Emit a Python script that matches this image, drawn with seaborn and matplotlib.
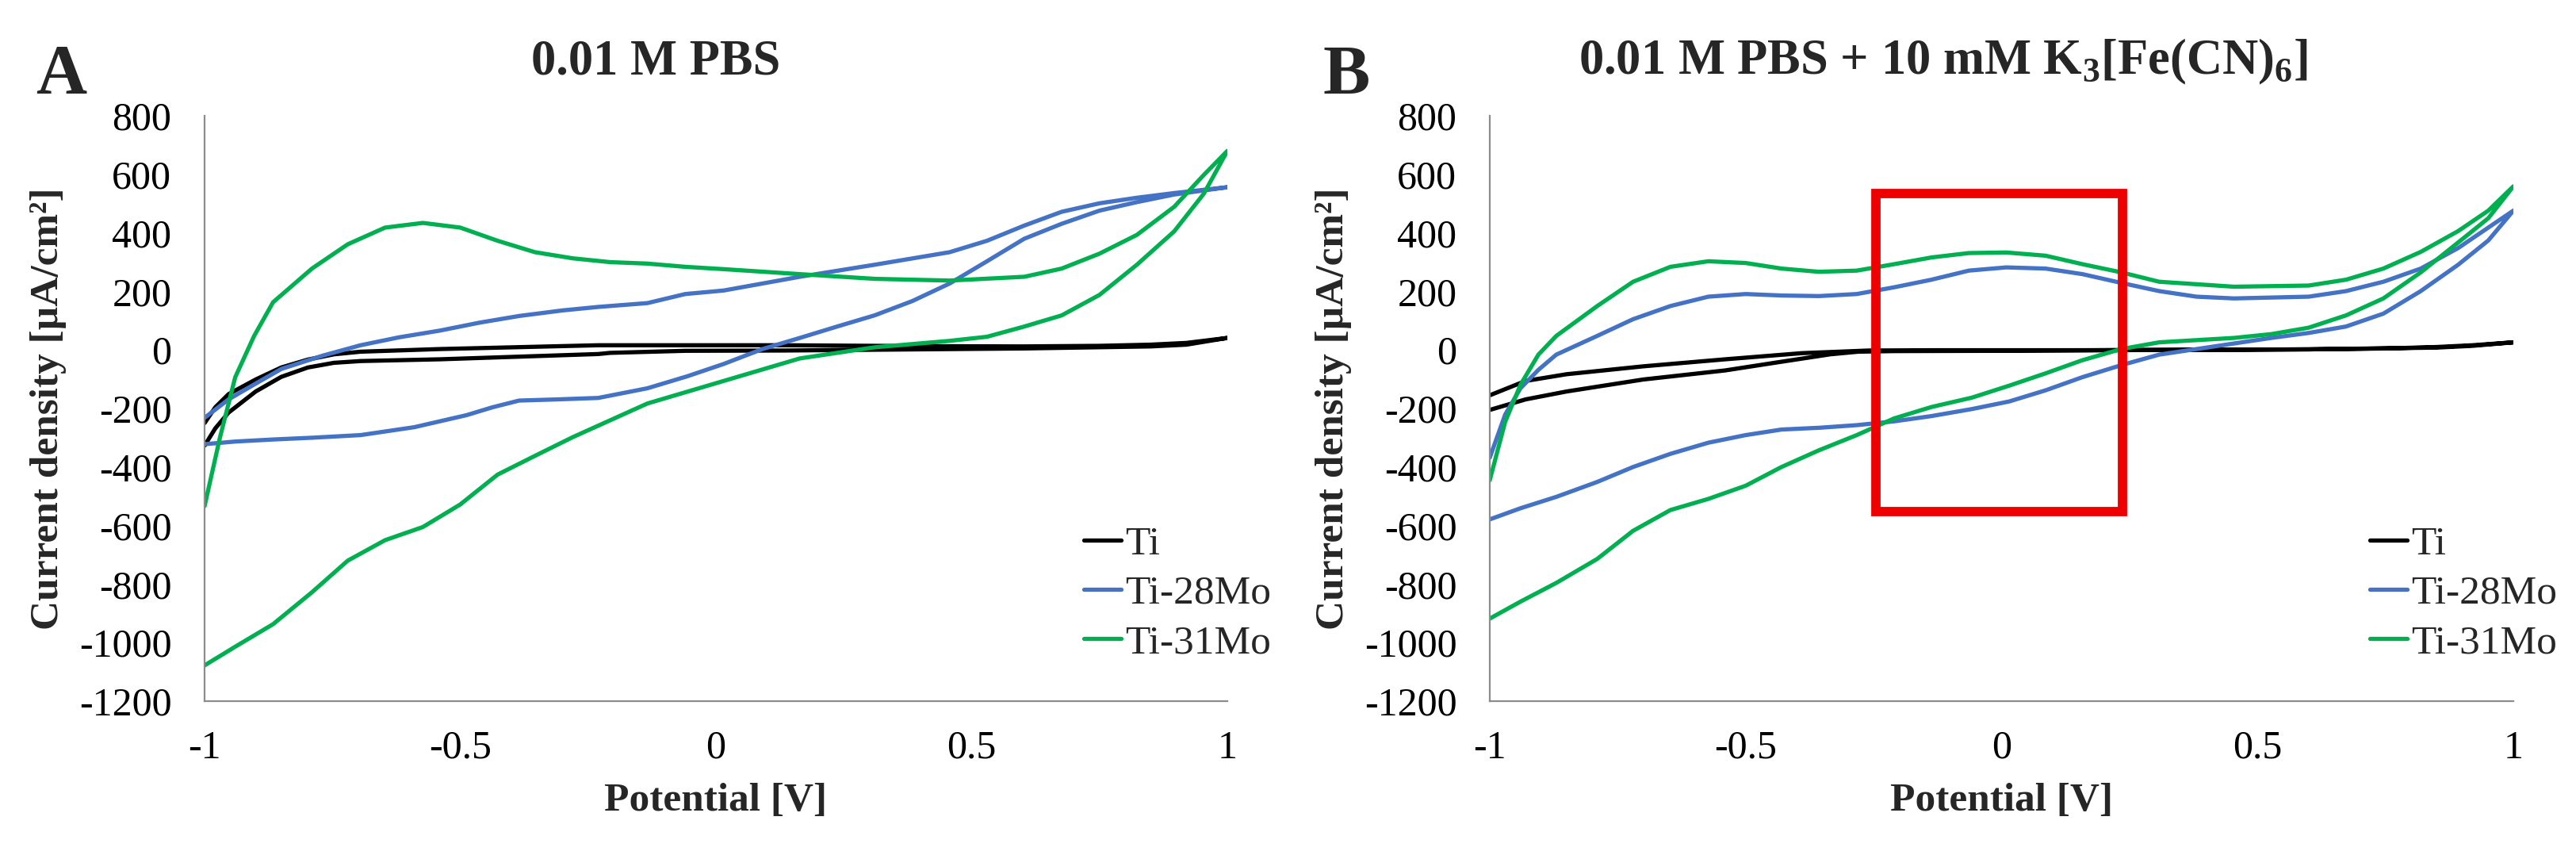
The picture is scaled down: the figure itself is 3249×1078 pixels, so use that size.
import pandas as pd
import matplotlib
matplotlib.use('Agg')
import matplotlib.pyplot as plt
from matplotlib.patches import Rectangle
import seaborn as sns

# ---- data (potential in V, current density in uA/cm2) ----
# Panel A: 0.01 M PBS
a_ti_fwd_v = [-1.0, -0.979, -0.953, -0.9, -0.85, -0.798, -0.747, -0.695, -0.54, -0.23, 0.135, 0.4, 0.6, 0.75, 0.85, 0.92, 1.0]
a_ti_fwd_i = [-250, -196, -151, -101, -60, -33, -15, -6, 3, 16, 16, 13, 12, 14, 18, 24, 41]
a_ti_rev_v = [1.0, 0.92, 0.85, 0.6, 0.4, 0.135, -0.06, -0.207, -0.23, -0.54, -0.695, -0.747, -0.798, -0.85, -0.9,
              -0.953, -0.979, -1.0]
a_ti_rev_i = [41, 18, 12, 5, 2, -2, -3, -10, -14, -32, -38, -44, -60, -92, -142, -214, -268, -327]

a_m28_fwd_v = [-1.0, -0.953, -0.9, -0.85, -0.77, -0.695, -0.62, -0.54, -0.463, -0.385, -0.3, -0.23,
               -0.134, -0.06, 0.015, 0.164, 0.31, 0.457, 0.53, 0.603, 0.676, 0.75, 0.823, 0.896, 1.0]
a_m28_fwd_i = [-232, -169, -115, -65, -20, 16, 43, 66, 93, 116, 135, 147,
               160, 191, 203, 250, 291, 334, 373, 425, 472, 501, 520, 536, 556]
a_m28_rev_v = [1.0, 0.896, 0.823, 0.75, 0.676, 0.603, 0.53, 0.457, 0.384, 0.31, 0.237, 0.164, 0.091, 0.015,
               -0.056, -0.134, -0.23, -0.31, -0.385, -0.437, -0.488, -0.59, -0.695, -0.79, -0.866, -0.94, -1.0]
a_m28_rev_i = [556, 531, 505, 476, 431, 380, 303, 227, 167, 118, 80, 41, 3, -48,
               -90, -131, -164, -169, -173, -196, -223, -264, -291, -300, -306, -313, -322]

a_m31_fwd_v = [-1.0, -0.97, -0.94, -0.903, -0.866, -0.79, -0.72, -0.647, -0.573, -0.5, -0.427, -0.354, -0.28,
               -0.207, -0.134, -0.06, 0.015, 0.164, 0.31, 0.457, 0.603, 0.676, 0.75, 0.823, 0.896, 0.954, 1.0]
a_m31_fwd_i = [-534, -300, -93, 48, 163, 278, 361, 418, 434, 418, 373, 334, 313,
               300, 295, 284, 276, 259, 243, 237, 250, 278, 329, 393, 489, 598, 680]
a_m31_rev_v = [1.0, 0.954, 0.896, 0.823, 0.75, 0.676, 0.603, 0.53, 0.457, 0.31, 0.164, 0.015, -0.134, -0.28,
               -0.354, -0.427, -0.5, -0.573, -0.647, -0.72, -0.79, -0.866, -0.94, -1.0]
a_m31_rev_i = [680, 534, 405, 291, 188, 118, 80, 45, 31, 9, -29, -106, -183, -298,
               -362, -426, -528, -605, -650, -720, -828, -937, -1014, -1078]

# Panel B: 0.01 M PBS + 10 mM K3[Fe(CN)6]
b_ti_fwd_v = [-1.0, -0.93, -0.85, -0.7, -0.54, -0.39, -0.26, -0.137, 0.13, 0.4, 0.6, 0.75, 0.85, 0.92, 1.0]
b_ti_fwd_i = [-155, -106, -83, -56, -32, -11, -2, -1, -1, 0, 2, 5, 10, 16, 26]
b_ti_rev_v = [1.0, 0.92, 0.85, 0.6, 0.3, 0.0, -0.21, -0.28, -0.335, -0.44, -0.54, -0.7, -0.85, -0.93, -1.0]
b_ti_rev_i = [26, 14, 8, 2, 0, -3, -4, -6, -15, -43, -70, -101, -142, -169, -205]

b_m28_fwd_v = [-1.0, -0.97, -0.94, -0.905, -0.87, -0.79, -0.72, -0.647, -0.573, -0.5, -0.43, -0.357, -0.283,
               -0.21, -0.137, -0.064, 0.009, 0.086, 0.158, 0.234, 0.308, 0.381, 0.454, 0.6, 0.673, 0.746,
               0.819, 0.892, 0.951, 1.0]
b_m28_fwd_i = [-368, -221, -131, -68, -16, 48, 105, 150, 182, 191, 186, 184, 191,
               214, 240, 271, 282, 278, 259, 229, 201, 182, 176, 182, 201, 233,
               278, 348, 418, 476]
b_m28_rev_v = [1.0, 0.951, 0.892, 0.819, 0.746, 0.673, 0.6, 0.527, 0.454, 0.381, 0.308, 0.234, 0.158, 0.086,
               0.015, -0.058, -0.137, -0.21, -0.283, -0.357, -0.43, -0.5, -0.573, -0.647, -0.72, -0.79, -0.87,
               -0.94, -1.0]
b_m28_rev_i = [476, 374, 291, 201, 124, 80, 58, 41, 22, 3, -16, -52, -93, -138,
               -176, -202, -226, -244, -257, -266, -272, -291, -317, -355, -400, -451, -502,
               -541, -579]

b_m31_fwd_v = [-1.0, -0.97, -0.94, -0.905, -0.87, -0.79, -0.72, -0.647, -0.573, -0.5, -0.43, -0.357, -0.283,
               -0.21, -0.137, -0.064, 0.009, 0.086, 0.158, 0.234, 0.308, 0.454, 0.6, 0.673, 0.746, 0.819,
               0.892, 0.951, 1.0]
b_m31_fwd_i = [-445, -246, -119, -16, 48, 150, 233, 284, 303, 297, 278, 267, 271,
               293, 316, 331, 333, 322, 293, 265, 233, 216, 220, 240, 278, 335,
               406, 476, 559]
b_m31_rev_v = [1.0, 0.951, 0.892, 0.819, 0.746, 0.673, 0.6, 0.527, 0.454, 0.308, 0.234, 0.158, 0.086, 0.015,
               -0.058, -0.137, -0.21, -0.283, -0.357, -0.43, -0.5, -0.573, -0.647, -0.72, -0.79, -0.87,
               -0.94, -1.0]
b_m31_rev_i = [559, 450, 367, 265, 176, 118, 76, 54, 41, 26, 3, -35, -80, -122,
               -163, -195, -234, -291, -343, -400, -464, -509, -547, -618, -714, -796,
               -860, -918]

# highlighted region in panel B
box_v = (-0.245, 0.237)
box_i = (-553, 534)

alloys = ['Ti', 'Ti-28Mo', 'Ti-31Mo']
palette = {'Ti': '#000000', 'Ti-28Mo': '#4472C4', 'Ti-31Mo': '#00B050'}
xticks = [-1, -0.5, 0, 0.5, 1]
xtick_labels = ['-1', '-0.5', '0', '0.5', '1']
yticks = list(range(-1200, 801, 200))


def build_frame(branches):
    rows = []
    for name, (fv, fi, rv, ri) in zip(alloys, branches):
        for v, i in zip(fv + rv, fi + ri):
            rows.append((name, v, i))
    return pd.DataFrame(rows, columns=['alloy', 'potential', 'current'])


df_a = build_frame([(a_ti_fwd_v, a_ti_fwd_i, a_ti_rev_v, a_ti_rev_i),
                    (a_m28_fwd_v, a_m28_fwd_i, a_m28_rev_v, a_m28_rev_i),
                    (a_m31_fwd_v, a_m31_fwd_i, a_m31_rev_v, a_m31_rev_i)])
df_b = build_frame([(b_ti_fwd_v, b_ti_fwd_i, b_ti_rev_v, b_ti_rev_i),
                    (b_m28_fwd_v, b_m28_fwd_i, b_m28_rev_v, b_m28_rev_i),
                    (b_m31_fwd_v, b_m31_fwd_i, b_m31_rev_v, b_m31_rev_i)])

sns.set_theme(style='white')
plt.rcParams['font.family'] = ['Liberation Serif', 'DejaVu Serif']
plt.rcParams['mathtext.fontset'] = 'custom'
plt.rcParams['mathtext.rm'] = 'Liberation Serif'
plt.rcParams['mathtext.bf'] = 'Liberation Serif:bold'
plt.rcParams['axes.unicode_minus'] = False

W, H = 3249, 1078
fig = plt.figure(figsize=(W / 100, H / 100), dpi=100)
ax_a = fig.add_axes([258 / W, 194 / H, 1290 / W, 738 / H])
ax_b = fig.add_axes([1879 / W, 194 / H, 1291 / W, 738 / H])


def draw_panel(ax, df):
    sns.lineplot(data=df, x='potential', y='current', hue='alloy', hue_order=alloys,
                 palette=palette, sort=False, estimator=None, linewidth=3.8, ax=ax)
    ax.set_xlim(-1, 1)
    ax.set_ylim(-1200, 800)
    ax.set_xticks(xticks)
    ax.set_xticklabels(xtick_labels)
    ax.set_yticks(yticks)
    ax.set_yticklabels([str(t) for t in yticks])
    ax.tick_params(axis='both', length=0, labelsize=36, colors='black')
    ax.tick_params(axis='y', pad=30)
    ax.tick_params(axis='x', pad=26)
    for side in ['top', 'right']:
        ax.spines[side].set_visible(False)
    for side in ['left', 'bottom']:
        ax.spines[side].set_color('#8c8c8c')
        ax.spines[side].set_linewidth(1.6)
    ax.set_xlabel('Potential [V]', fontsize=37, fontweight='bold')
    ax.set_ylabel('Current density [µA/cm²]', fontsize=37, fontweight='bold')
    ax.xaxis.set_label_coords(0.5, -0.14)
    ax.yaxis.set_label_coords(-0.135, 0.5)
    handles, labels = ax.get_legend_handles_labels()
    ax.legend(handles, labels, loc='upper left', bbox_to_anchor=(0.86, 0.30),
              frameon=False, fontsize=37, handlelength=0.9, handletextpad=0.1,
              labelspacing=0.3, borderpad=0, borderaxespad=0)


draw_panel(ax_a, df_a)
draw_panel(ax_b, df_b)

ax_b.add_patch(Rectangle((box_v[0], box_i[0]), box_v[1] - box_v[0], box_i[1] - box_i[0],
                         fill=False, edgecolor='#ee0000', linewidth=8.5, zorder=5))

fig.text(827 / W, 1 - 78 / H, '0.01 M PBS', ha='center', va='center',
         fontsize=45, fontweight='bold')
fig.text(2451 / W, 1 - 78 / H, r'0.01 M PBS + 10 mM K$_\mathbf{3}$[Fe(CN)$_\mathbf{6}$]',
         ha='center', va='center', fontsize=45, fontweight='bold')
fig.text(77 / W, 1 - 96 / H, 'A', ha='center', va='center', fontsize=64, fontweight='bold')
fig.text(1698 / W, 1 - 96 / H, 'B', ha='center', va='center', fontsize=64, fontweight='bold')

fig.savefig('out.png', dpi=100)
